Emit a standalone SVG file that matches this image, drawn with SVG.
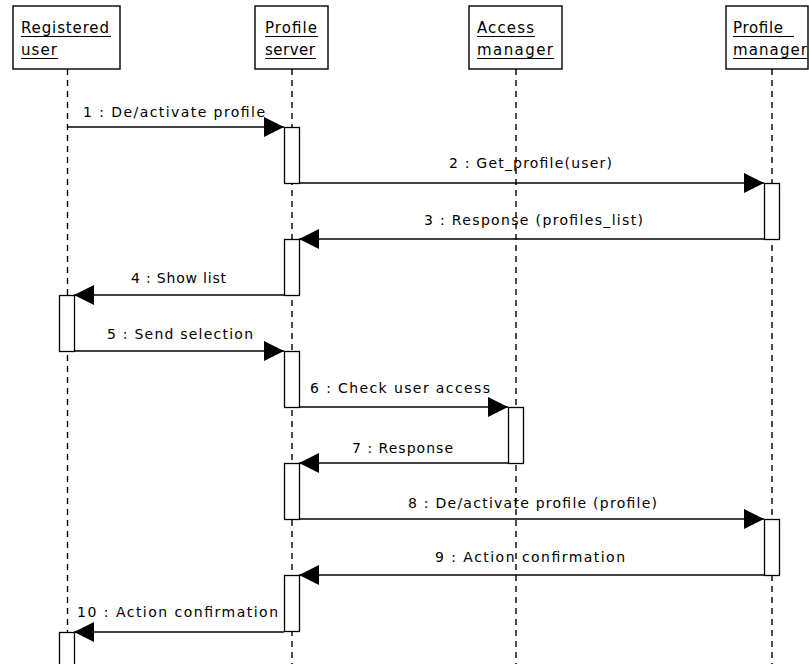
<svg xmlns="http://www.w3.org/2000/svg" width="809" height="664" viewBox="0 0 809 664">
<defs>
<style>
.box{fill:#fff;stroke:#000;stroke-width:1.4}
.life{stroke:#000;stroke-width:1.4;stroke-dasharray:6,5;fill:none}
.act{fill:#fff;stroke:#000;stroke-width:1.3}
.msg{stroke:#000;stroke-width:1.3;fill:none;marker-end:url(#ah)}
.hd{font-family:"DejaVu Sans",sans-serif;font-size:15px;fill:#000}
.ul{stroke:#000;stroke-width:1}
.lbl{font-family:"DejaVu Sans",sans-serif;font-size:14px;fill:#000}
</style>
<marker id="ah" markerUnits="userSpaceOnUse" viewBox="0 0 20 20" refX="20" refY="10" markerWidth="20" markerHeight="20" orient="auto">
<path d="M0,0 L20,10 L0,20 z" fill="#000"/>
</marker>
</defs>
<rect width="809" height="664" fill="#fff"/>

<g id="connectors">
<line class="msg" x1="68" y1="127" x2="284" y2="127"/>
<text class="lbl" x="83" y="117" textLength="182" lengthAdjust="spacing">1 : De/activate profile</text>
<line class="msg" x1="299" y1="183" x2="764" y2="183"/>
<text class="lbl" x="449" y="168" textLength="163" lengthAdjust="spacing">2 : Get_profile(user)</text>
<line class="msg" x1="764" y1="239" x2="299" y2="239"/>
<text class="lbl" x="424" y="225" textLength="219" lengthAdjust="spacing">3 : Response (profiles_list)</text>
<line class="msg" x1="284" y1="295" x2="74" y2="295"/>
<text class="lbl" x="131" y="283" textLength="95" lengthAdjust="spacing">4 : Show list</text>
<line class="msg" x1="74" y1="351" x2="284" y2="351"/>
<text class="lbl" x="107" y="339" textLength="146" lengthAdjust="spacing">5 : Send selection</text>
<line class="msg" x1="299" y1="407" x2="508" y2="407"/>
<text class="lbl" x="310" y="393" textLength="180" lengthAdjust="spacing">6 : Check user access</text>
<line class="msg" x1="508" y1="463" x2="299" y2="463"/>
<text class="lbl" x="352" y="453" textLength="101" lengthAdjust="spacing">7 : Response</text>
<line class="msg" x1="299" y1="519" x2="764" y2="519"/>
<text class="lbl" x="408" y="508" textLength="249" lengthAdjust="spacing">8 : De/activate profile (profile)</text>
<line class="msg" x1="764" y1="575" x2="299" y2="575"/>
<text class="lbl" x="435" y="562" textLength="190" lengthAdjust="spacing">9 : Action confirmation</text>
<line class="msg" x1="284" y1="632" x2="74" y2="632"/>
<text class="lbl" x="77" y="617" textLength="201" lengthAdjust="spacing">10 : Action confirmation</text>
</g>

<g id="registered-user">
<rect class="box" x="13" y="6" width="107" height="63"/>
<text class="hd" x="21" y="33" textLength="88" lengthAdjust="spacing">Registered</text>
<line class="ul" x1="21" y1="36.5" x2="111" y2="36.5"/>
<text class="hd" x="21" y="55" textLength="36" lengthAdjust="spacing">user</text>
<line class="ul" x1="21" y1="58.5" x2="58" y2="58.5"/>
<line class="life" x1="67.5" y1="69" x2="67.5" y2="664"/>
<rect class="act" x="59.5" y="295.5" width="15" height="56"/>
<rect class="act" x="59.5" y="632.5" width="15" height="40"/>
</g>

<g id="profile-server">
<rect class="box" x="255" y="6" width="73" height="63"/>
<text class="hd" x="265" y="33" textLength="52" lengthAdjust="spacing">Profile</text>
<line class="ul" x1="265" y1="36.5" x2="318" y2="36.5"/>
<text class="hd" x="265" y="55" textLength="50" lengthAdjust="spacing">server</text>
<line class="ul" x1="265" y1="58.5" x2="316" y2="58.5"/>
<line class="life" x1="292" y1="69" x2="292" y2="664"/>
<rect class="act" x="284.5" y="127.5" width="15" height="56"/>
<rect class="act" x="284.5" y="239.5" width="15" height="56"/>
<rect class="act" x="284.5" y="351.5" width="15" height="56"/>
<rect class="act" x="284.5" y="463.5" width="15" height="56"/>
<rect class="act" x="284.5" y="575.5" width="15" height="56"/>
</g>

<g id="access-manager">
<rect class="box" x="469" y="6" width="93" height="63"/>
<text class="hd" x="477" y="33" textLength="57" lengthAdjust="spacing">Access</text>
<line class="ul" x1="477" y1="36.5" x2="535" y2="36.5"/>
<text class="hd" x="477" y="55" textLength="76" lengthAdjust="spacing">manager</text>
<line class="ul" x1="477" y1="58.5" x2="554" y2="58.5"/>
<line class="life" x1="516" y1="69" x2="516" y2="664"/>
<rect class="act" x="508.5" y="407.5" width="15" height="56"/>
</g>

<g id="profile-manager">
<rect class="box" x="726" y="6" width="82" height="63"/>
<text class="hd" x="733" y="33" textLength="50" lengthAdjust="spacing">Profile</text>
<line class="ul" x1="733" y1="36.5" x2="794" y2="36.5"/>
<text class="hd" x="733" y="55" textLength="74" lengthAdjust="spacing">manager</text>
<line class="ul" x1="733" y1="58.5" x2="808" y2="58.5"/>
<line class="life" x1="772" y1="69" x2="772" y2="664"/>
<rect class="act" x="764.5" y="183.5" width="15" height="56"/>
<rect class="act" x="764.5" y="519.5" width="15" height="56"/>
</g>
</svg>
